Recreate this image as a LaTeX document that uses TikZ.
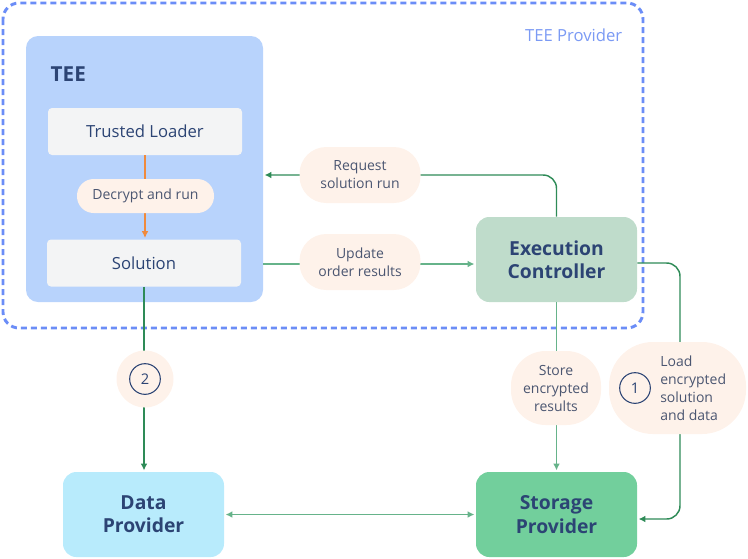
\documentclass[tikz,border=0pt]{standalone}
\usepackage{fontspec}
\setmainfont{Open Sans}
\usetikzlibrary{arrows.meta,positioning,calc}
\definecolor{dashblue}{HTML}{6B8DF7}
\definecolor{provtext}{HTML}{7B9AF4}
\definecolor{teefill}{HTML}{B8D3FC}
\definecolor{boxgray}{HTML}{F3F4F5}
\definecolor{pillfill}{HTML}{FEF2EA}
\definecolor{ecfill}{HTML}{BFDCCB}
\definecolor{datafill}{HTML}{B8EBFC}
\definecolor{storefill}{HTML}{72CF9C}
\definecolor{navy}{HTML}{2C4474}
\definecolor{pilltext}{HTML}{4B5671}
\definecolor{darkgreen}{HTML}{2E8B57}
\definecolor{lightgreen}{HTML}{66B38A}
\definecolor{orangeline}{HTML}{F08A3C}

\tikzset{
  inbox/.style={rounded corners=3pt, fill=boxgray, minimum width=145.5pt,
    minimum height=35.25pt, text=navy, font=\fontsize{12.5}{15}\selectfont},
  bigbox/.style={rounded corners=10pt, minimum width=120.75pt, minimum height=63.75pt,
    align=center, text=navy, font=\bfseries\fontsize{14.5}{17.5}\selectfont},
  pill/.style={fill=pillfill, text=pilltext, align=center, inner sep=0pt,
    font=\fontsize{10.5}{13.5}\selectfont},
  numring/.style={circle, draw=navy, line width=0.8pt, minimum size=23pt, inner sep=0pt,
    text=navy, font=\fontsize{11}{13}\selectfont},
  link/.style={line width=1.1pt, -{Latex[length=5pt,width=5pt]}, shorten >=1pt},
}

\begin{document}
\begin{tikzpicture}[x=0.75pt,y=-0.75pt]
  \useasboundingbox (0,0) rectangle (748,558);

  % provider frame
  \draw[dashblue, line width=2.2pt, dash pattern=on 4.5pt off 3pt, rounded corners=12pt]
    (3,3) rectangle (643,328);
  \node[text=provtext, font=\fontsize{12.5}{15}\selectfont, anchor=east] (provlabel) at (627,35) {TEE Provider};

  % enclave
  \node[fill=teefill, rounded corners=9pt, minimum width=177.75pt, minimum height=199.5pt] (tee) at (144.5,169) {};
  \node[text=navy, font=\fontsize{15.5}{18}\selectfont\bfseries, anchor=west] (teelabel) at (46,74) {TEE};
  \node[inbox] (loader) at (145,131.5) {Trusted Loader};
  \node[inbox] (sol) at (144,263) {Solution};

  % outer boxes
  \node[bigbox, fill=ecfill] (ec) at (556.5,259.5) {Execution\\Controller};
  \node[bigbox, fill=datafill] (data) at (143.5,514.5) {Data\\Provider};
  \node[bigbox, fill=storefill] (store) at (556.5,514.5) {Storage\\Provider};

  % connectors
  \draw[link, orangeline, line width=0.9pt] (loader.south) -- (loader.south |- sol.north);
  \draw[link, darkgreen, rounded corners=10pt] (ec.north) |- (tee.east |- 0,175);
  \draw[link, lightgreen] (tee.east |- 0,264) -- (ec.west |- 0,264);
  \draw[link, lightgreen] (ec.south) -- (store.north);
  \draw[link, darkgreen, rounded corners=10pt] (ec.east |- 0,263) -| (680,519) -- (store.east |- 0,519);
  \draw[link, darkgreen] (sol.south) -- (sol.south |- data.north);
  \draw[line width=1.1pt, lightgreen, {Latex[length=5pt,width=5pt]}-{Latex[length=5pt,width=5pt]}, shorten <=1pt, shorten >=1pt]
    (data.east) -- (store.west);

  % labels on connectors
  \node[pill, rounded corners=12.5pt, minimum width=102.75pt, minimum height=25.5pt] (decrypt) at (145.5,196) {Decrypt and run};
  \node[pill, rounded corners=20pt, minimum width=90.75pt, minimum height=42pt] (request) at (360,175) {Request\\solution run};
  \node[pill, rounded corners=20pt, minimum width=90.75pt, minimum height=42pt] (update) at (360,262) {Update\\order results};
  \node[pill, rounded corners=26pt, minimum width=67.5pt, minimum height=55.5pt] (storeres) at (556,388) {Store\\encrypted\\results};
  \node[pill, rounded corners=33pt, minimum width=102.75pt, minimum height=69pt] (load) at (677.5,388) {};
  \node[text=pilltext, align=left, anchor=west, inner sep=0pt, font=\fontsize{10.5}{13.5}\selectfont] (loadtext) at (660,388) {Load\\encrypted\\solution\\and data};
  \node[numring] (one) at (635,388) {1};
  \node[pill, circle, minimum size=42.75pt] (badge) at (145,379) {};
  \node[numring] (two) at (badge) {2};
\end{tikzpicture}
\end{document}
